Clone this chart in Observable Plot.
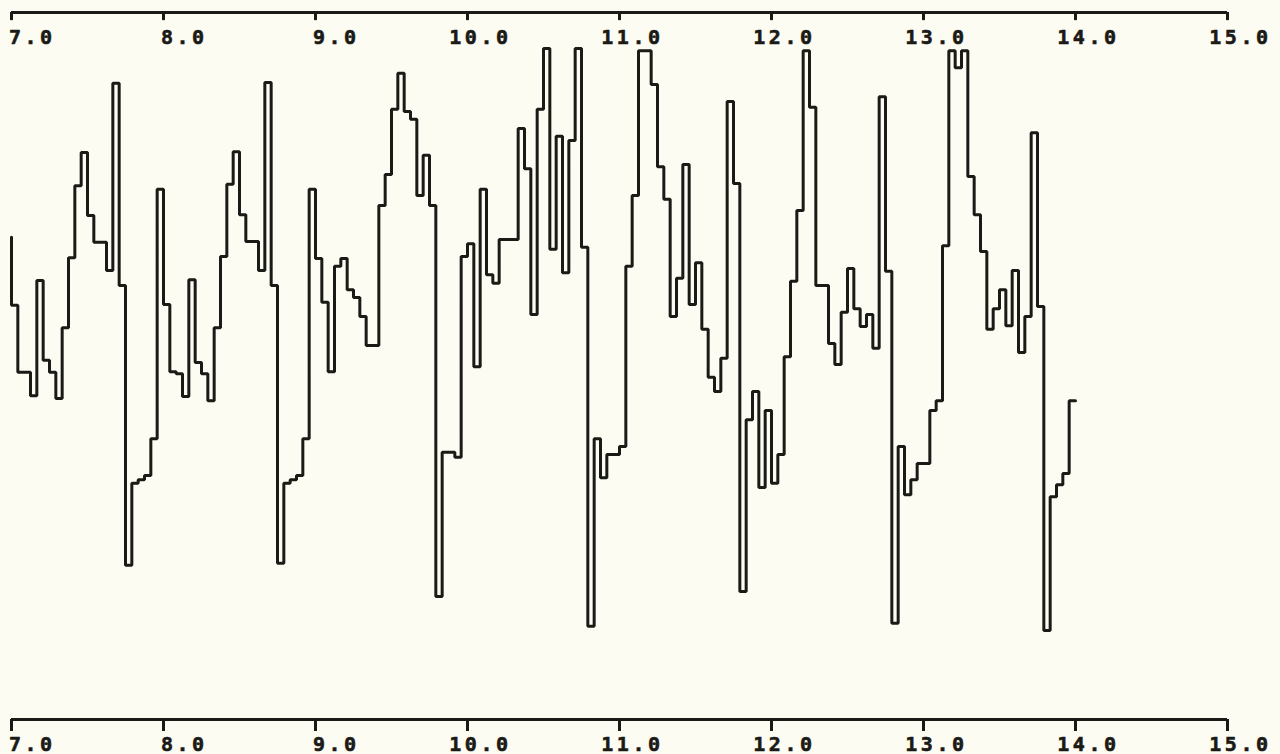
<!DOCTYPE html>
<html>
<head>
<meta charset="utf-8">
<script src="https://cdn.jsdelivr.net/npm/d3@7"></script>
<script src="https://cdn.jsdelivr.net/npm/@observablehq/plot@0.6"></script>
<style>
  html, body { margin: 0; padding: 0; background: #fdfcf2; }
  #chart { width: 1280px; height: 754px; overflow: hidden; }
</style>
</head>
<body>
<div id="chart"></div>
<script>
// Hourly readings (arbitrary units, 0 = bottom axis, 100 = top axis), one array per day
const startValue = 68.2; // reading at 7.0
const day07 = [58.6, 49.1, 49.1, 45.8, 62.1, 50.8, 49.1, 45.4, 55.4, 65.3, 75.5, 80.2, 71.3, 67.5, 67.5, 63.5, 90.0, 61.4, 21.8, 33.4, 33.9, 34.5, 39.7, 75.0];
const day08 = [58.7, 49.2, 48.9, 45.7, 62.2, 50.5, 48.9, 45.1, 55.4, 65.5, 75.7, 80.3, 71.4, 67.6, 67.6, 63.5, 90.1, 61.4, 22.1, 33.4, 33.9, 34.5, 39.7, 75.0];
const day09 = [65.2, 59.0, 49.2, 64.1, 65.2, 60.8, 59.7, 57.0, 52.9, 52.9, 72.7, 77.1, 86.3, 91.4, 86.0, 84.9, 74.1, 79.8, 72.7, 17.4, 37.8, 37.8, 37.1, 65.5];
const day10 = [67.3, 49.9, 75.0, 62.9, 61.7, 67.9, 67.9, 67.9, 83.6, 77.9, 57.3, 86.3, 94.9, 66.5, 82.5, 63.2, 81.9, 94.9, 66.8, 13.2, 39.7, 34.2, 37.5, 37.5];
const day11 = [38.6, 64.1, 74.1, 94.6, 94.6, 89.8, 78.2, 73.6, 57.0, 62.4, 78.5, 58.7, 64.6, 55.2, 48.4, 46.4, 51.1, 87.4, 75.8, 18.1, 42.4, 46.4, 32.8, 43.7];
const day12 = [33.4, 37.5, 51.3, 62.0, 72.0, 94.6, 86.6, 61.4, 61.4, 53.2, 50.2, 57.6, 63.8, 58.1, 55.6, 57.3, 52.5, 88.1, 63.4, 13.6, 38.6, 31.8, 33.9, 36.2];
const day13 = [36.2, 43.7, 45.1, 67.0, 94.6, 92.2, 94.6, 76.8, 71.4, 66.2, 55.2, 58.1, 60.8, 55.7, 63.5, 51.9, 57.0, 83.0, 58.4, 12.6, 31.5, 33.2, 34.8, 45.1];

const startX = 7;
const stepsPerUnit = 24;
const xTicks = [7, 8, 9, 10, 11, 12, 13, 14, 15];
const xDomain = [7, 15];
const yDomain = [0, 100];

const series = [startValue, ...day07, ...day08, ...day09, ...day10, ...day11, ...day12, ...day13];
const data = series.map((v, i) => ({x: startX + i / stepsPerUnit, v}));

const ink = "#1a1a16";
const labelStyle = {textAnchor: "end", lineAnchor: "bottom", dx: 44, dy: 31, fontSize: 20, fontWeight: "bold", fill: ink, stroke: ink, strokeWidth: 0.6};
const chart = Plot.plot({
  width: 1280,
  height: 754,
  marginLeft: 11,
  marginRight: 53,
  marginTop: 12,
  marginBottom: 35,
  style: {background: "#fdfcf2", color: ink, fontFamily: "'DejaVu Sans Mono', monospace", letterSpacing: "3.5px", overflow: "visible"},
  x: {domain: xDomain, axis: null},
  y: {domain: yDomain, axis: null},
  marks: [
    Plot.ruleY(yDomain, {stroke: ink, strokeWidth: 3}),
    Plot.ruleX(xTicks, {x: d => d, y1: yDomain[1], y2: yDomain[1] - 1.15, stroke: ink, strokeWidth: 3}),
    Plot.ruleX(xTicks, {x: d => d, y1: yDomain[0], y2: yDomain[0] - 1.7, stroke: ink, strokeWidth: 3}),
    Plot.text(xTicks, {x: d => d, y: yDomain[1], text: d => d.toFixed(1), ...labelStyle}),
    Plot.text(xTicks, {x: d => d, y: yDomain[0], text: d => d.toFixed(1), ...labelStyle}),
    Plot.line(data, {x: "x", y: "v", curve: "step-before", stroke: ink, strokeWidth: 3, strokeLinejoin: "miter"})
  ]
});
document.getElementById("chart").append(chart);
</script>
</body>
</html>
